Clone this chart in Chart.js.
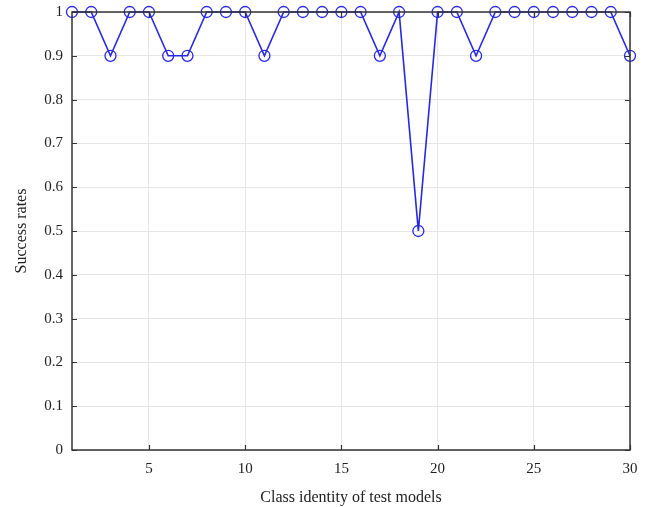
<!DOCTYPE html>
<html>
<head>
<meta charset="utf-8">
<script src="https://cdn.jsdelivr.net/npm/chart.js@4"></script>
<style>
  html, body { margin: 0; padding: 0; background: #fff; }
  #wrap { width: 649px; height: 507px; }
</style>
</head>
<body>
<div id="wrap"><canvas id="successChart"></canvas></div>
<script>
const classIds = Array.from({ length: 30 }, (_, i) => i + 1); // class 1..30
const successRates = [1, 1, 0.9, 1, 1, 0.9, 0.9, 1, 1, 1, 0.9, 1, 1, 1, 1, 1, 0.9, 1, 0.5, 1, 1, 0.9, 1, 1, 1, 1, 1, 1, 1, 0.9];
const xTicks = [5, 10, 15, 20, 25, 30];
const yTicks = [0, 0.1, 0.2, 0.3, 0.4, 0.5, 0.6, 0.7, 0.8, 0.9, 1];

const serif = '"Liberation Serif", "Times New Roman", serif';

// box around the axes plus matlab style inward tick marks
const axesBox = {
    id: 'axesBox',
    afterDraw(chart) {
        const { ctx, chartArea: a, scales } = chart;
        ctx.save();
        ctx.strokeStyle = '#333';
        ctx.lineWidth = 1.2;
        ctx.beginPath();
        xTicks.forEach(v => {
            const x = Math.round(scales.x.getPixelForValue(v)) + 0.5;
            ctx.moveTo(x, a.bottom); ctx.lineTo(x, a.bottom - 5);
            ctx.moveTo(x, a.top); ctx.lineTo(x, a.top + 5);
        });
        yTicks.forEach(v => {
            const y = Math.round(scales.y.getPixelForValue(v)) + 0.5;
            ctx.moveTo(a.left, y); ctx.lineTo(a.left + 5, y);
            ctx.moveTo(a.right, y); ctx.lineTo(a.right - 5, y);
        });
        ctx.stroke();
        ctx.lineWidth = 1.5;
        ctx.strokeRect(a.left, a.top, a.right - a.left, a.bottom - a.top);
        ctx.restore();
    }
};

new Chart(document.getElementById('successChart').getContext('2d'), {
    type: 'line',
    data: {
        datasets: [{
            data: classIds.map((c, i) => ({ x: c, y: successRates[i] })),
            borderColor: 'rgb(40, 40, 225)',
            borderWidth: 1.6,
            pointStyle: 'circle',
            pointRadius: 5.5,
            pointBorderWidth: 1.3,
            pointBorderColor: 'rgb(40, 40, 225)',
            pointBackgroundColor: 'rgba(0,0,0,0)',
            tension: 0,
            clip: false
        }]
    },
    options: {
        responsive: true,
        maintainAspectRatio: false,
        animation: false,
        layout: { padding: { left: 0, right: 19, top: 12, bottom: 0 } },
        plugins: { legend: { display: false }, tooltip: { enabled: false } },
        scales: {
            x: {
                type: 'linear',
                min: 1,
                max: 30,
                afterBuildTicks: s => { s.ticks = xTicks.map(v => ({ value: v })); },
                afterFit: s => { s.height = 57; s.paddingLeft = 0; s.paddingRight = 0; },
                grid: { color: '#e6e6e6', lineWidth: 1, drawTicks: false },
                border: { display: false },
                ticks: {
                    color: '#222',
                    padding: 10,
                    maxRotation: 0,
                    font: { family: serif, size: 15 }
                },
                title: {
                    display: true,
                    text: 'Class identity of test models',
                    color: '#222',
                    padding: { top: 6, bottom: 0 },
                    font: { family: serif, size: 16 }
                }
            },
            y: {
                min: 0,
                max: 1,
                afterBuildTicks: s => { s.ticks = yTicks.map(v => ({ value: v })); },
                afterFit: s => { s.width = 72; s.paddingTop = 0; s.paddingBottom = 0; },
                grid: { color: '#e6e6e6', lineWidth: 1, drawTicks: false },
                border: { display: false },
                ticks: {
                    color: '#222',
                    padding: 9,
                    font: { family: serif, size: 15 },
                    callback: v => (v === 0 || v === 1) ? String(v) : v.toFixed(1)
                },
                title: {
                    display: true,
                    text: 'Success rates',
                    color: '#222',
                    padding: { top: 12, bottom: 4 },
                    font: { family: serif, size: 16 }
                }
            }
        }
    },
    plugins: [axesBox]
});
</script>
</body>
</html>
